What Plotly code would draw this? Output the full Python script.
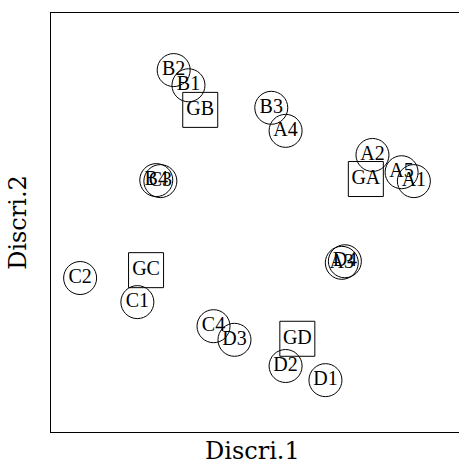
import plotly.graph_objects as go

# Individuals (circles)
ind_labels = ["B2", "B1", "B3", "A4", "A2", "A5", "A1", "B4", "C3",
              "C2", "C1", "C4", "D3", "D2", "D1", "A3", "D4"]
ind_x = [-1.60, -1.31, 0.31, 0.59, 2.29, 2.86, 3.10, -1.94, -1.86,
         -3.43, -2.31, -0.82, -0.41, 0.59, 1.37, 1.69, 1.75]
ind_y = [2.91, 2.62, 2.19, 1.75, 1.29, 0.96, 0.79, 0.81, 0.79,
         -1.06, -1.52, -1.98, -2.24, -2.74, -3.01, -0.77, -0.74]

# Group centroids (squares)
grp_labels = ["GB", "GA", "GC", "GD"]
grp_x = [-1.08, 2.16, -2.14, 0.82]
grp_y = [2.15, 0.83, -0.91, -2.22]

x_range = [-4, 4.12]
y_range = [-4, 4]

fig = go.Figure()
fig.add_trace(go.Scatter(
    x=ind_x, y=ind_y, text=ind_labels, mode="markers+text",
    textposition="middle center",
    textfont=dict(family="Liberation Serif", size=20, color="black"),
    marker=dict(symbol="circle", size=33, color="rgba(0,0,0,0)",
                line=dict(color="black", width=1)),
    showlegend=False, hoverinfo="text"))
fig.add_trace(go.Scatter(
    x=grp_x, y=grp_y, text=grp_labels, mode="markers+text",
    textposition="middle center",
    textfont=dict(family="Liberation Serif", size=20, color="black"),
    marker=dict(symbol="square", size=35, color="rgba(0,0,0,0)",
                line=dict(color="black", width=1)),
    showlegend=False, hoverinfo="text"))

fig.update_layout(
    width=466, height=468,
    margin=dict(l=51, r=0, t=13, b=36),
    paper_bgcolor="white", plot_bgcolor="white",
    xaxis=dict(range=x_range, showgrid=False, zeroline=False,
               showticklabels=False, ticks="", showline=True, mirror=True,
               linecolor="black", linewidth=1, automargin=False),
    yaxis=dict(range=y_range, showgrid=False, zeroline=False,
               showticklabels=False, ticks="", showline=True, mirror=False,
               linecolor="black", linewidth=1, automargin=False,
               title=dict(text="Discri.2", standoff=16,
                          font=dict(family="DejaVu Serif", size=24, color="black"))),
    annotations=[dict(text="Discri.1", xref="paper", yref="paper",
                      x=(252 - 51) / 415, y=-0.006, xanchor="center", yanchor="top",
                      showarrow=False,
                      font=dict(family="DejaVu Serif", size=24, color="black"))],
)

fig.write_html("out.html", config={"displayModeBar": False},
               post_script="document.body.style.margin='0';document.body.style.overflow='hidden';")
